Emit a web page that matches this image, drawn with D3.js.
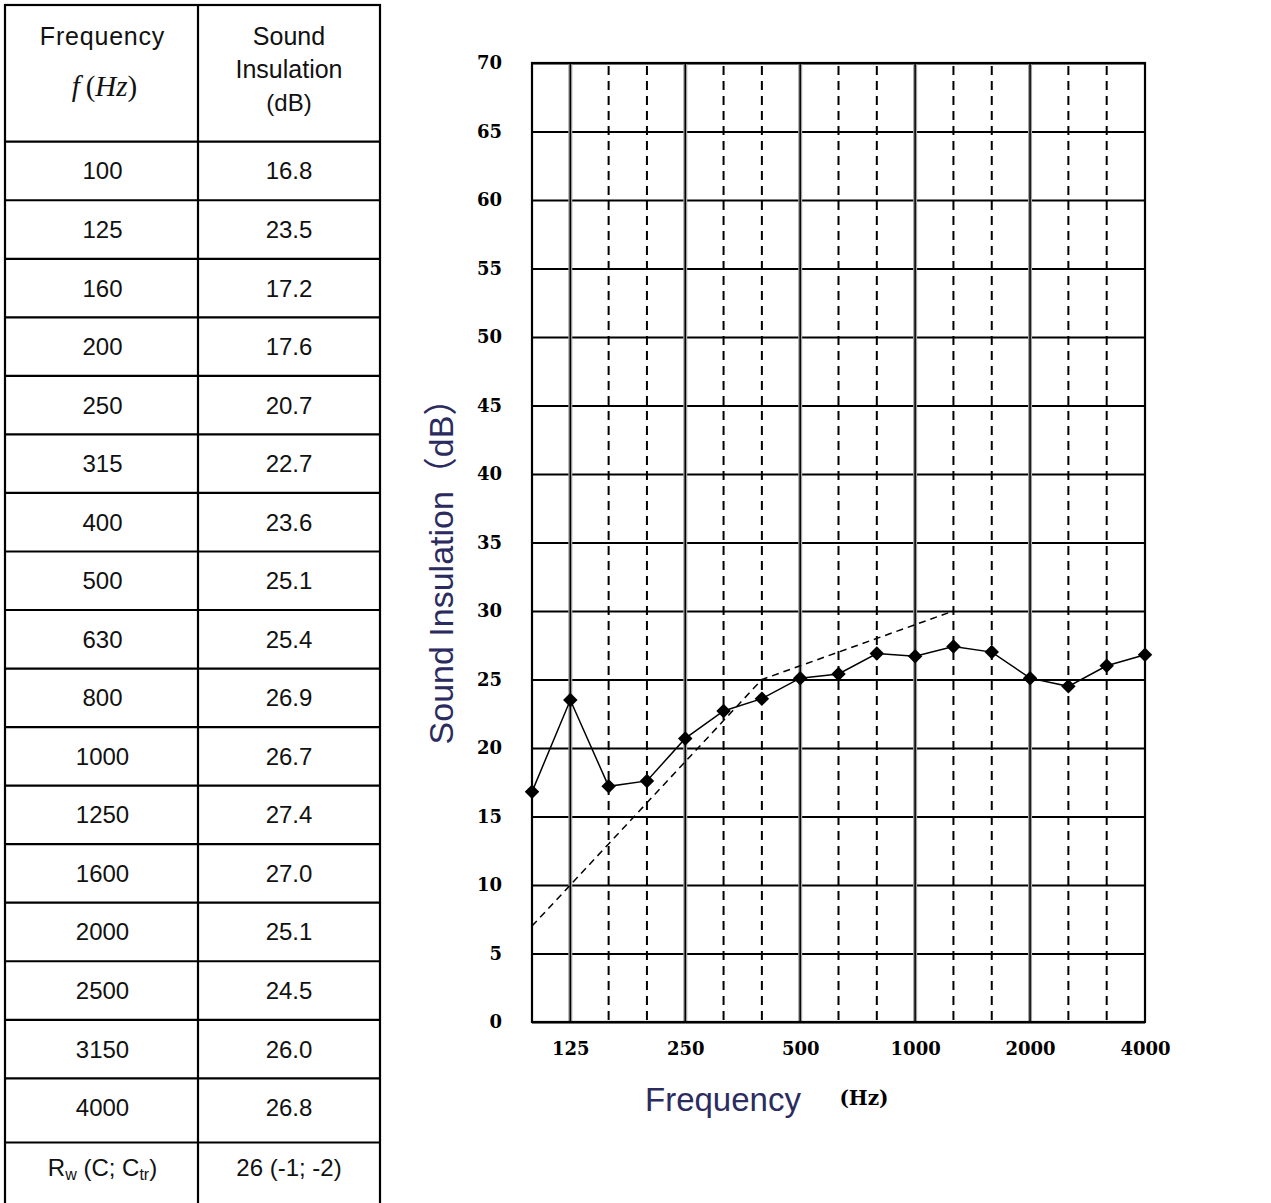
<!DOCTYPE html>
<html>
<head>
<meta charset="utf-8">
<script src="https://cdn.jsdelivr.net/npm/d3@7"></script>
<style>
  body { margin: 0; background: #fff; }
  svg { display: block; }
</style>
</head>
<body>
<script>
'use strict';

// measured data (third-octave bands)
const freqs = ["100", "125", "160", "200", "250", "315", "400", "500", "630", "800",
  "1000", "1250", "1600", "2000", "2500", "3150", "4000"];
const insulation = [16.8, 23.5, 17.2, 17.6, 20.7, 22.7, 23.6, 25.1, 25.4, 26.9,
  26.7, 27.4, 27.0, 25.1, 24.5, 26.0, 26.8];
const insulationText = ["16.8", "23.5", "17.2", "17.6", "20.7", "22.7", "23.6", "25.1", "25.4", "26.9",
  "26.7", "27.4", "27.0", "25.1", "24.5", "26.0", "26.8"];

// shifted reference curve, 100 - 1250 Hz
const refFreqs = ["100", "125", "160", "200", "250", "315", "400", "500", "630", "800", "1000", "1250"];
const refValues = [7, 10, 13, 16, 19, 22, 25, 26, 27, 28, 29, 30];

const octaveTicks = ["125", "250", "500", "1000", "2000", "4000"];
const yTicks = [0, 5, 10, 15, 20, 25, 30, 35, 40, 45, 50, 55, 60, 65, 70];
const rwResult = "26 (-1; -2)";

const W = 1271, H = 1203;
const svg = d3.select("body").append("svg").attr("width", W).attr("height", H);

// ---------- table ----------
const colX = [5, 198, 380];
const headBottom = 141.7;
const rowH = 58.54;
const rowTops = freqs.map((d, i) => headBottom + i * rowH);
const rwTop = 1142.5;
const tableBottom = 1215;
const lines = rowTops.concat([rwTop]);

const tbl = svg.append("g").attr("class", "table");
tbl.append("rect")
  .attr("x", colX[0]).attr("y", 5)
  .attr("width", colX[2] - colX[0]).attr("height", tableBottom - 5)
  .attr("fill", "none").attr("stroke", "#000").attr("stroke-width", 2.2);
tbl.append("line")
  .attr("x1", colX[1]).attr("x2", colX[1]).attr("y1", 5).attr("y2", tableBottom)
  .attr("stroke", "#000").attr("stroke-width", 2.2);
tbl.selectAll("line.row")
  .data(lines)
  .enter().append("line")
  .attr("class", "row")
  .attr("x1", colX[0]).attr("x2", colX[2])
  .attr("y1", d => d).attr("y2", d => d)
  .attr("stroke", "#000").attr("stroke-width", 2.2);

const c1 = (colX[0] + colX[1]) / 2 + 1;
const c2 = (colX[1] + colX[2]) / 2;
const cellFont = "'Liberation Sans', Arial, sans-serif";

// header
const hd = tbl.append("g").attr("font-family", cellFont).attr("font-size", 24)
  .attr("text-anchor", "middle").attr("fill", "#111");
hd.append("text").attr("x", c1).attr("y", 45).attr("font-size", 25).attr("letter-spacing", 0.8).text("Frequency");
const fz = hd.append("text").attr("x", c1 + 2).attr("y", 96)
  .attr("font-family", "'Liberation Serif', 'Times New Roman', serif").attr("font-size", 29);
fz.append("tspan").attr("font-style", "italic").text("f");
fz.append("tspan").text("\u2009(");
fz.append("tspan").attr("font-style", "italic").text("Hz");
fz.append("tspan").text(")");
hd.append("text").attr("x", c2).attr("y", 45).attr("font-size", 25).text("Sound");
hd.append("text").attr("x", c2).attr("y", 78).attr("font-size", 25).text("Insulation");
hd.append("text").attr("x", c2).attr("y", 111).text("(dB)");

// rows
const rows = tbl.append("g").attr("font-family", cellFont).attr("font-size", 24)
  .attr("text-anchor", "middle").attr("fill", "#111");
rows.selectAll("text.f")
  .data(freqs)
  .enter().append("text")
  .attr("class", "f")
  .attr("x", c1).attr("y", (d, i) => rowTops[i] + rowH / 2 + 8.5)
  .text(d => d);
rows.selectAll("text.v")
  .data(insulationText)
  .enter().append("text")
  .attr("class", "v")
  .attr("x", c2).attr("y", (d, i) => rowTops[i] + rowH / 2 + 8.5)
  .text(d => d);

const rw = rows.append("text").attr("x", c1).attr("y", 1176);
rw.append("tspan").text("R");
rw.append("tspan").attr("font-size", 16).attr("dy", 4).text("w");
rw.append("tspan").attr("dy", -4).text(" (C; C");
rw.append("tspan").attr("font-size", 16).attr("dy", 4).text("tr");
rw.append("tspan").attr("dy", -4).text(")");
rows.append("text").attr("x", c2).attr("y", 1176).text(rwResult);

// ---------- chart ----------
const plot = { left: 532, right: 1145, top: 63, bottom: 1022 };

const x = d3.scalePoint().domain(freqs).range([plot.left, plot.right]);
const y = d3.scaleLinear().domain([0, 70]).range([plot.bottom, plot.top]);

const chart = svg.append("g").attr("class", "chart");

// horizontal grid
chart.append("g")
  .attr("transform", `translate(${plot.left},0)`)
  .call(d3.axisLeft(y).tickValues(yTicks).tickSize(-(plot.right - plot.left)).tickFormat(""))
  .call(g => g.select(".domain").remove())
  .call(g => g.selectAll(".tick line").attr("stroke", "#000").attr("stroke-width", 2));

// vertical grid: octave lines solid, third-octave dashed
const vGrid = chart.append("g");
const inner = freqs.slice(1, -1);
vGrid.selectAll("line.oct-bg")
  .data(inner.filter(d => octaveTicks.includes(d)))
  .enter().append("line")
  .attr("x1", d => x(d)).attr("x2", d => x(d))
  .attr("y1", plot.top).attr("y2", plot.bottom)
  .attr("stroke", "#a0a0a0").attr("stroke-width", 4);
vGrid.selectAll("line.oct")
  .data(inner.filter(d => octaveTicks.includes(d)))
  .enter().append("line")
  .attr("x1", d => x(d)).attr("x2", d => x(d))
  .attr("y1", plot.top).attr("y2", plot.bottom)
  .attr("stroke", "#000").attr("stroke-width", 1.5);
vGrid.selectAll("line.third")
  .data(inner.filter(d => !octaveTicks.includes(d)))
  .enter().append("line")
  .attr("x1", d => x(d)).attr("x2", d => x(d))
  .attr("y1", plot.top).attr("y2", plot.bottom)
  .attr("stroke", "#000").attr("stroke-width", 2)
  .attr("stroke-dasharray", "9,6")
  .attr("stroke-dashoffset", -3);

// frame
chart.append("rect")
  .attr("x", plot.left).attr("y", plot.top)
  .attr("width", plot.right - plot.left).attr("height", plot.bottom - plot.top)
  .attr("fill", "none").attr("stroke", "#000").attr("stroke-width", 2.2);

// reference curve (dashed)
const refPts = refFreqs.map((f, i) => [f, refValues[i]]);
chart.append("path")
  .datum(refPts)
  .attr("fill", "none").attr("stroke", "#000").attr("stroke-width", 1.5)
  .attr("stroke-dasharray", "7,5")
  .attr("d", d3.line().x(d => x(d[0])).y(d => y(d[1])));

// measured curve
const pts = freqs.map((f, i) => [f, insulation[i]]);
chart.append("path")
  .datum(pts)
  .attr("fill", "none").attr("stroke", "#000").attr("stroke-width", 1.5)
  .attr("d", d3.line().x(d => x(d[0])).y(d => y(d[1])));

chart.selectAll("path.mk")
  .data(pts)
  .enter().append("path")
  .attr("class", "mk")
  .attr("d", d3.symbol().type(d3.symbolSquare).size(105))
  .attr("transform", d => `translate(${x(d[0])},${y(d[1])}) rotate(45)`)
  .attr("fill", "#000");

// tick labels
const tickFont = "'DejaVu Serif', serif";
chart.append("g")
  .attr("transform", `translate(502,0)`)
  .call(d3.axisLeft(y).tickValues(yTicks).tickSize(0).tickPadding(0))
  .call(g => g.select(".domain").remove())
  .call(g => g.selectAll("text")
    .attr("font-family", tickFont).attr("font-weight", "bold")
    .attr("font-size", 18).attr("fill", "#000"));

chart.append("g")
  .attr("transform", `translate(0,${plot.bottom})`)
  .call(d3.axisBottom(x).tickValues(octaveTicks).tickSize(0).tickPadding(20))
  .call(g => g.select(".domain").remove())
  .call(g => g.selectAll("text")
    .attr("font-family", tickFont).attr("font-weight", "bold")
    .attr("font-size", 18).attr("fill", "#000"));

// axis titles
const titleColor = "#2b2b60";
chart.append("text")
  .attr("transform", "translate(453,563) rotate(-90)")
  .attr("text-anchor", "middle")
  .attr("font-family", "'Liberation Sans', Arial, 'Noto Sans CJK SC', sans-serif")
  .attr("font-size", 34).attr("fill", titleColor)
  .text("Sound Insulation\uFF08dB\uFF09");

chart.append("text")
  .attr("x", 645).attr("y", 1111)
  .attr("font-family", "'Liberation Sans', Arial, sans-serif")
  .attr("font-size", 33).attr("fill", titleColor)
  .text("Frequency");

chart.append("text")
  .attr("x", 864).attr("y", 1105)
  .attr("text-anchor", "middle")
  .attr("font-family", tickFont).attr("font-weight", "bold")
  .attr("font-size", 20).attr("fill", "#000")
  .text("(Hz)");
</script>
</body>
</html>
